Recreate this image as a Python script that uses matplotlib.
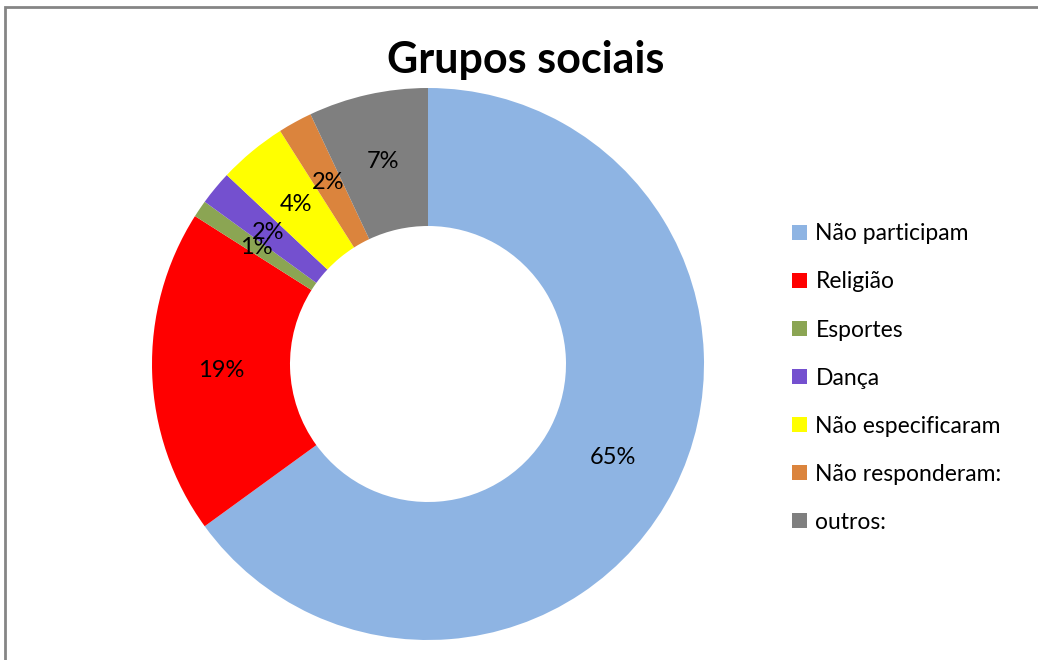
import matplotlib.pyplot as plt
import matplotlib.patches as patches

# Participação em grupos sociais (%)
categories = [
    "Não participam",
    "Religião",
    "Esportes",
    "Dança",
    "Não especificaram",
    "Não responderam:",
    "outros:",
]
values = [65, 19, 1, 2, 4, 2, 7]
colors = ["#8EB4E3", "#FF0000", "#8BA553", "#7450CF", "#FFFF00", "#DB843D", "#7F7F7F"]

plt.rcParams["font.family"] = ["Lato", "DejaVu Sans"]

W, H = 1038, 660
fig = plt.figure(figsize=(W / 100, H / 100), dpi=100)
fig.patch.set_facecolor("white")

# donut placement in pixels (centre and outer radius)
cx, cy, r = 428, 364, 276
ax = fig.add_axes([(cx - r) / W, 1 - (cy + r) / H, 2 * r / W, 2 * r / H])

wedges, texts, autotexts = ax.pie(
    values,
    colors=colors,
    startangle=90,
    counterclock=False,
    autopct="%1.0f%%",
    pctdistance=0.75,
    wedgeprops=dict(width=0.5, linewidth=0),
    textprops=dict(fontsize=17, color="black"),
)
ax.set_xlim(-1, 1)
ax.set_ylim(-1, 1)
ax.set_aspect("equal")

fig.text(526 / W, 1 - 60 / H, "Grupos sociais", ha="center", va="center",
         fontsize=31, fontweight="bold")

fig.legend(
    wedges, categories,
    loc="upper left",
    bbox_to_anchor=(781 / W, 1 - 212 / H),
    frameon=False,
    fontsize=16.5,
    handlelength=0.65,
    handleheight=0.65,
    handletextpad=0.35,
    labelspacing=1.18,
    borderpad=0,
)

# chart frame (only top and left edges fall inside the image)
frame = patches.Rectangle((5 / W, -0.2), 1.2, 1 - 7 / H + 0.2,
                          transform=fig.transFigure, fill=False,
                          edgecolor="#858585", linewidth=2, clip_on=False)
fig.add_artist(frame)

fig.savefig("out.png", dpi=100)
